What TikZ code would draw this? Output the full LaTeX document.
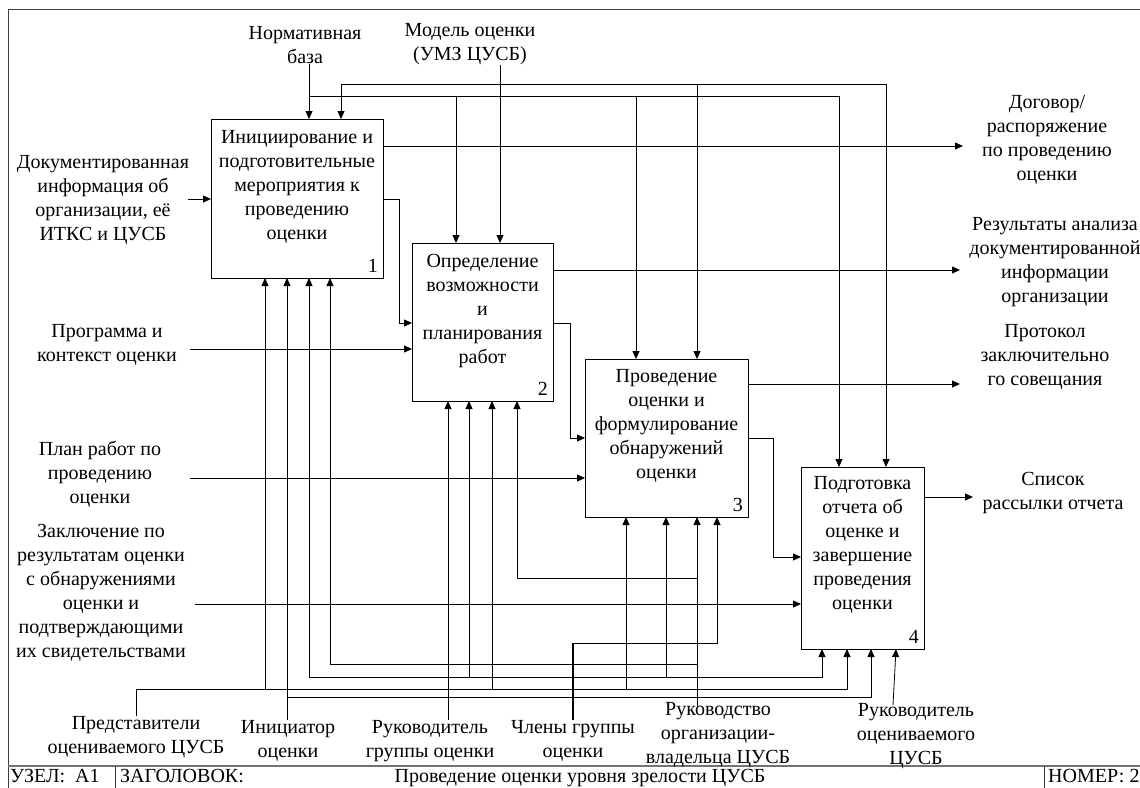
\documentclass[tikz,border=0pt]{standalone}
\usepackage{fontspec}
\setmainfont{Liberation Serif}
\usetikzlibrary{arrows.meta}

\begin{document}
\begin{tikzpicture}[
        x=1pt, y=-1pt,
        font=\fontsize{20}{24}\selectfont,
        func/.style={draw, line width=0.9pt, inner sep=0pt, outer sep=0pt},
        txt/.style={align=center, inner sep=0pt},
        num/.style={anchor=south east, inner sep=5pt},
        link/.style={line width=0.8pt},
        flow/.style={link, -{Triangle[length=8pt, width=7pt]}}
    ]
        \useasboundingbox (0,0) rectangle (1140,787);
        \draw[line width=0.9pt, black!75] (8,800) -- (8,9) -- (1150,9);
        \draw[line width=1.2pt, black!55] (8,766) -- (1150,766);
        \draw[line width=0.9pt, black!75] (115,766) -- (115,800);
        \draw[line width=0.9pt, black!75] (1044,766) -- (1044,800);

        \node[func, minimum width=172, minimum height=159] (b1) at (297,198.5) {};
        \node[func, minimum width=141, minimum height=158] (b2) at (482.5,322) {};
        \node[func, minimum width=163, minimum height=158] (b3) at (666.5,438) {};
        \node[func, minimum width=123, minimum height=182] (b4) at (862.5,558) {};

        \node[txt] (t1) at ([yshift=12]b1.center) {Инициирование и\\подготовительные\\мероприятия к\\проведению\\оценки};
        \node[txt] (t2) at ([yshift=11]b2.center) {Определение\\возможности\\и\\планирования\\работ};
        \node[txt] (t3) at ([yshift=12]b3.center) {Проведение\\оценки и\\формулирование\\обнаружений\\оценки};
        \node[txt] (t4) at ([yshift=13]b4.center) {Подготовка\\отчета об\\оценке и\\завершение\\проведения\\оценки};
        \node[num] (n1) at (b1.south east) {1};
        \node[num] (n2) at (b2.south east) {2};
        \node[num] (n3) at (b3.south east) {3};
        \node[num] (n4) at (b4.south east) {4};

        \node[txt] (nb) at (305,45) {Нормативная\\база};
        \node[txt] (mo) at (470,44) {Модель оценки\\(УМЗ ЦУСБ)};
        \node[txt] (di) at (103,200) {Документированная\\информация об\\организации, её\\ИТКС и ЦУСБ};
        \node[txt] (pk) at (107,345) {Программа и\\контекст оценки};
        \node[txt] (pl) at (100,474) {План работ по\\проведению\\оценки};
        \node[txt] (zk) at (101,593) {Заключение по\\результатам оценки\\с обнаружениями\\оценки и\\подтверждающими\\их свидетельствами};
        \node[txt] (dg) at (1047,140) {Договор/\\распоряжение\\по проведению\\оценки};
        \node[txt] (ra) at (1055,262) {Результаты анализа\\документированной\\информации\\организации};
        \node[txt] (pz) at (1045,357) {Протокол\\заключительно\\го совещания};
        \node[txt] (sr) at (1053,493) {Список\\рассылки отчета};
        \node[txt] (pr) at (136,737) {Представители\\оцениваемого ЦУСБ};
        \node[txt] (ini) at (288,741) {Инициатор\\оценки};
        \node[txt] (rg) at (430,741) {Руководитель\\группы оценки};
        \node[txt] (cg) at (573,741) {Члены группы\\оценки};
        \node[txt] (ro) at (718,735) {Руководство\\организации-\\владельца ЦУСБ};
        \node[txt] (rv) at (916,736) {Руководитель\\оцениваемого\\ЦУСБ};

        \node[anchor=base west, inner sep=0pt] (uz) at (10,782) {УЗЕЛ:\ \ А1};
        \node[anchor=base west, inner sep=0pt] (zg) at (120,782) {ЗАГОЛОВОК:};
        \node[anchor=base, inner sep=0pt] (tt) at (580,782) {Проведение оценки уровня зрелости ЦУСБ};
        \node[anchor=base west, inner sep=0pt] (nm) at (1048,782) {НОМЕР: 2};

        \coordinate (nbS) at (309,96);
        \coordinate (moS) at (500,84);
        \draw[flow] (nb.south -| nbS) -- ([xshift=12]b1.north);
        \draw[flow] (nbS) -| ([xshift=-26.5]b2.north);
        \draw[flow] (nbS) -| ([xshift=-30.5]b3.north);
        \draw[flow] (nbS) -| ([xshift=-23.5]b4.north);
        \draw[flow] (mo.south -| moS) -- ([xshift=17.5]b2.north);
        \draw[flow] (moS) -| ([xshift=44]b1.north);
        \draw[flow] (moS) -| ([xshift=30.5]b3.north);
        \draw[flow] (moS) -| ([xshift=23.5]b4.north);

        \coordinate (diS) at (188,199);
        \coordinate (pkS) at (190,349);
        \coordinate (plS) at (190,478);
        \coordinate (zkS) at (195,604);
        \draw[flow] (diS) -- (diS -| b1.west);
        \draw[flow] (pkS) -- (pkS -| b2.west);
        \draw[flow] (plS) -- (plS -| b3.west);
        \draw[flow] (zkS) -- (zkS -| b4.west);

        \coordinate (f12) at (399,323);
        \coordinate (f23) at (570,438);
        \coordinate (f34) at (773,557);
        \draw[flow] (b1.east |- diS) -| (f12) -- (f12 -| b2.west);
        \draw[flow] (b2.east |- f12) -| (f23) -- (f23 -| b3.west);
        \draw[flow] (b3.east |- f23) -| (f34) -- (f34 -| b4.west);

        \coordinate (o1) at (963,146);
        \coordinate (o2) at (960,270);
        \coordinate (o3) at (960,384);
        \coordinate (o4) at (973,497);
        \draw[flow] (b1.east |- o1) -- (o1);
        \draw[flow] (b2.east |- o2) -- (o2);
        \draw[flow] (b3.east |- o3) -- (o3);
        \draw[flow] (b4.east |- o4) -- (o4);

        \coordinate (prS) at (136,689);
        \draw[link] (pr.north) -- (prS);
        \draw[flow] (prS) -| ([xshift=-32]b1.south);
        \draw[flow] (prS) -| ([xshift=9.5]b2.south);
        \draw[flow] (prS) -| ([xshift=-40.5]b3.south);
        \draw[flow] (prS) -| ([xshift=-15.5]b4.south);

        \coordinate (iniS) at (287,697);
        \draw[flow] (ini.north -| iniS) -- ([xshift=-10]b1.south);
        \draw[flow] (iniS) -| ([xshift=8.5]b4.south);

        \draw[flow] ([xshift=18]rg.north) -- ([xshift=-34.5]b2.south);

        \coordinate (cgS) at (573,677);
        \coordinate (cgU) at (573,643);
        \draw[link, line width=1.4pt] (cg.north) -- (cgU);
        \draw[flow] (cgS) -| ([xshift=12]b1.south);
        \draw[flow] (cgS) -| ([xshift=-13.5]b2.south);
        \draw[flow] (cgS) -| ([xshift=-0.5]b3.south);
        \draw[flow] (cgS) -| ([xshift=-40.5]b4.south);
        \draw[flow] (cgU) -| ([xshift=50.5]b3.south);

        \coordinate (roS) at (697,707);
        \coordinate (roJ) at (697,664);
        \coordinate (roK) at (697,578);
        \draw[flow] (roS) -- ([xshift=30.5]b3.south);
        \draw[flow] (roK) -| ([xshift=34.5]b2.south);
        \draw[flow] (roJ) -| ([xshift=33]b1.south);

        \coordinate (rvS) at (893,705);
        \draw[flow] (rvS) -- ([xshift=33.5]b4.south);
\end{tikzpicture}
\end{document}
